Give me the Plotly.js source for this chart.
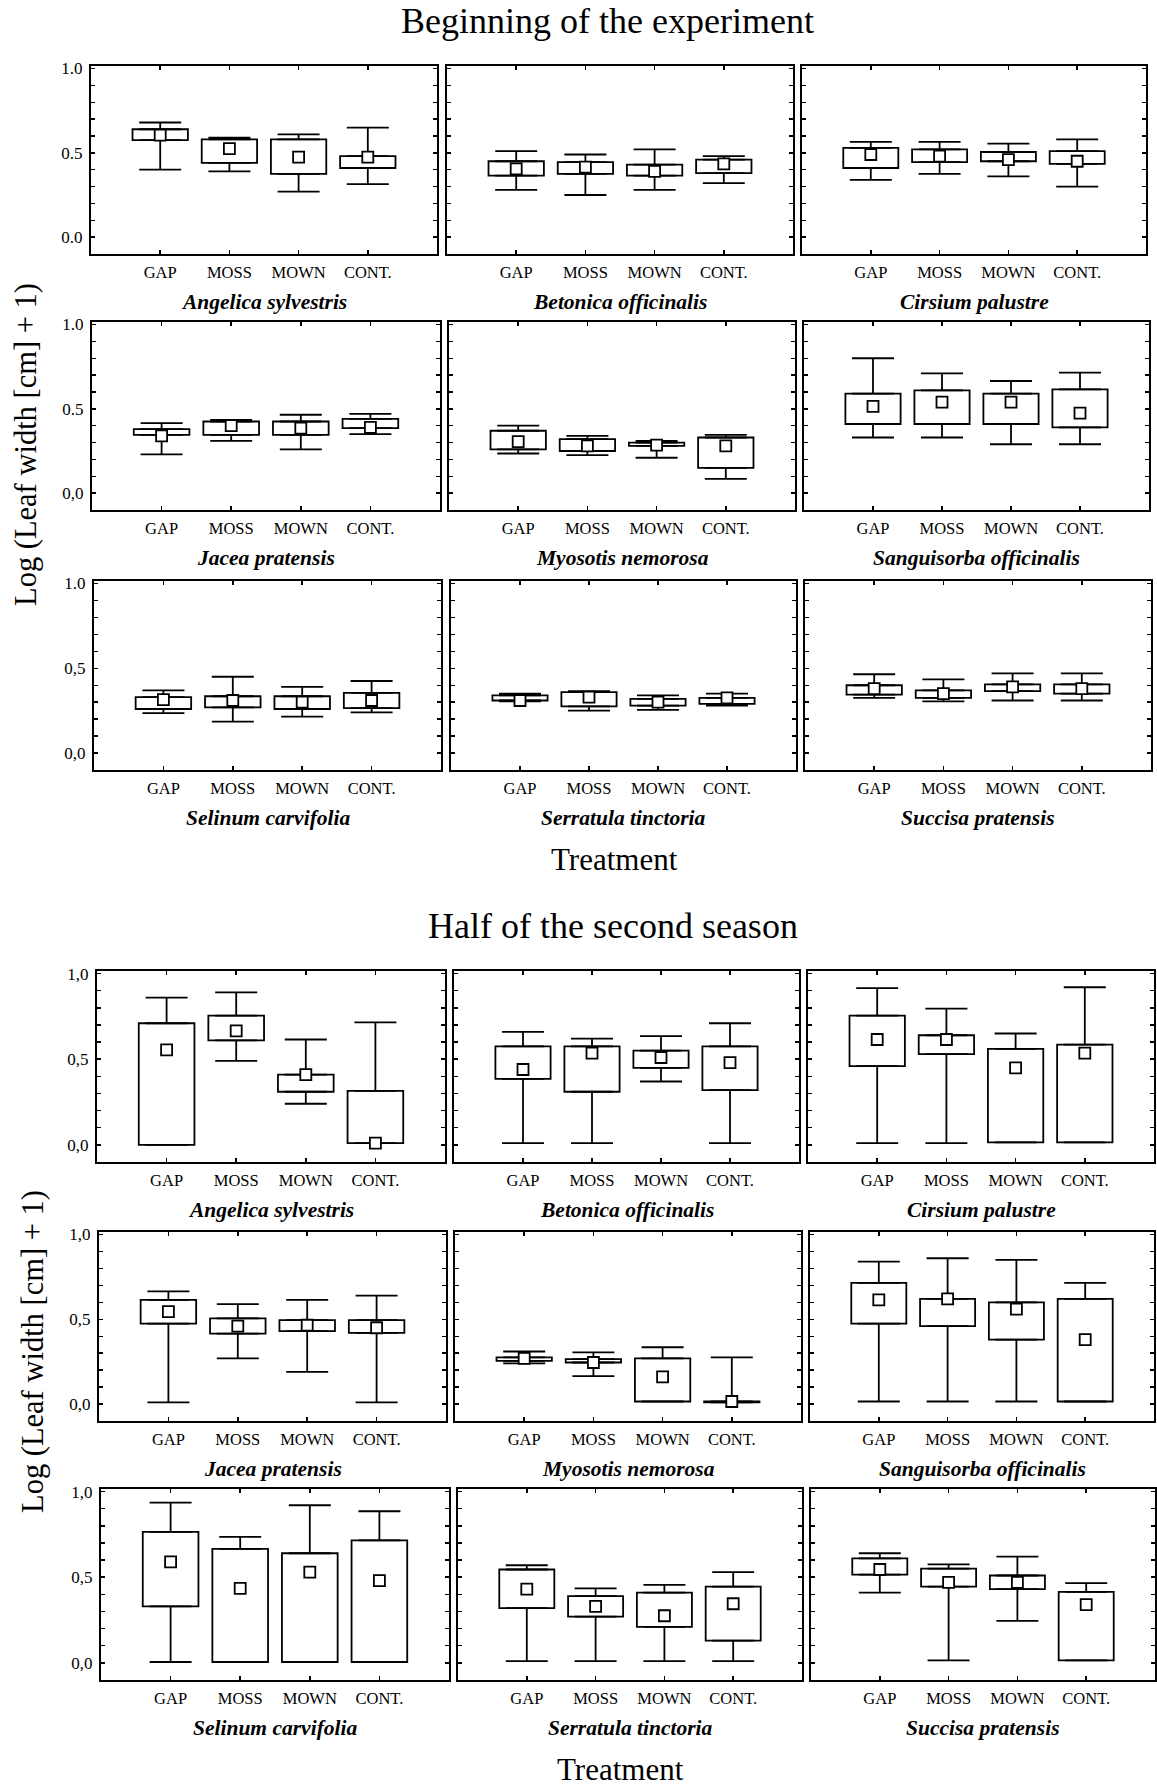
<!DOCTYPE html>
<html><head><meta charset="utf-8">
<script src="https://cdn.plot.ly/plotly-3.0.1.min.js"></script>
<style>html,body{margin:0;padding:0;background:#fff}#chart{width:1157px;height:1786px}</style>
</head><body><div id="chart"></div>
<script>
const treatments = ['GAP', 'MOSS', 'MOWN', 'CONT.'];
const species = ['Angelica sylvestris', 'Betonica officinalis', 'Cirsium palustre',
  'Jacea pratensis', 'Myosotis nemorosa', 'Sanguisorba officinalis',
  'Selinum carvifolia', 'Serratula tinctoria', 'Succisa pratensis'];
const periodTitles = ['Beginning of the experiment', 'Half of the second season'];
const xAxisTitle = 'Treatment';
const yAxisTitle = 'Log (Leaf width [cm] + 1)';
const yTickValues = [0, 0.5, 1.0];
const yTickLabelsByRow = [
  ['0.0', '0.5', '1.0'], ['0,0', '0.5', '1.0'], ['0,0', '0,5', '1.0'],
  ['0,0', '0,5', '1,0'], ['0,0', '0,5', '1,0'], ['0,0', '0,5', '1,0']
];

// Beginning of the experiment: rows = species, columns = GAP, MOSS, MOWN, CONT.
const begWhiskerLow = [
  [0.40, 0.39, 0.27, 0.315], [0.28, 0.25, 0.28, 0.32], [0.34, 0.375, 0.36, 0.30],
  [0.23, 0.31, 0.26, 0.35], [0.235, 0.225, 0.21, 0.085], [0.33, 0.33, 0.29, 0.29],
  [0.235, 0.185, 0.215, 0.24], [0.305, 0.25, 0.255, 0.28], [0.325, 0.305, 0.31, 0.31]
];
const begBoxLow = [
  [0.575, 0.44, 0.375, 0.41], [0.365, 0.375, 0.365, 0.38], [0.41, 0.445, 0.45, 0.435],
  [0.345, 0.345, 0.345, 0.385], [0.26, 0.25, 0.28, 0.15], [0.41, 0.41, 0.41, 0.39],
  [0.26, 0.27, 0.26, 0.265], [0.31, 0.275, 0.28, 0.29], [0.345, 0.325, 0.365, 0.35]
];
const begBoxHigh = [
  [0.64, 0.58, 0.58, 0.48], [0.45, 0.445, 0.43, 0.46], [0.53, 0.52, 0.505, 0.51],
  [0.38, 0.425, 0.425, 0.44], [0.37, 0.32, 0.30, 0.33], [0.59, 0.61, 0.59, 0.615],
  [0.33, 0.335, 0.335, 0.355], [0.34, 0.36, 0.32, 0.325], [0.40, 0.37, 0.405, 0.405]
];
const begWhiskerHigh = [
  [0.68, 0.59, 0.61, 0.65], [0.51, 0.49, 0.52, 0.48], [0.565, 0.565, 0.555, 0.58],
  [0.415, 0.435, 0.465, 0.47], [0.40, 0.34, 0.31, 0.345], [0.80, 0.71, 0.665, 0.715],
  [0.37, 0.45, 0.39, 0.425], [0.35, 0.365, 0.34, 0.35], [0.465, 0.435, 0.47, 0.47]
];
const begMean = [
  [0.605, 0.525, 0.475, 0.475], [0.405, 0.415, 0.39, 0.435], [0.49, 0.48, 0.46, 0.45],
  [0.34, 0.40, 0.385, 0.39], [0.305, 0.28, 0.285, 0.28], [0.515, 0.54, 0.54, 0.475],
  [0.315, 0.31, 0.30, 0.31], [0.31, 0.33, 0.30, 0.325], [0.38, 0.35, 0.39, 0.38]
];

// Half of the second season
const halfWhiskerLow = [
  [0.0, 0.49, 0.24, 0.01], [0.01, 0.01, 0.37, 0.01], [0.01, 0.01, 0.015, 0.015],
  [0.01, 0.27, 0.19, 0.01], [0.24, 0.165, 0.015, 0.01], [0.015, 0.015, 0.015, 0.015],
  [0.005, 0.005, 0.005, 0.005], [0.01, 0.01, 0.01, 0.01], [0.41, 0.015, 0.245, 0.015]
];
const halfBoxLow = [
  [0.0, 0.61, 0.31, 0.01], [0.385, 0.31, 0.45, 0.32], [0.46, 0.53, 0.015, 0.015],
  [0.475, 0.415, 0.43, 0.42], [0.255, 0.245, 0.015, 0.01], [0.475, 0.46, 0.38, 0.015],
  [0.33, 0.005, 0.005, 0.005], [0.32, 0.27, 0.21, 0.13], [0.515, 0.445, 0.43, 0.015]
];
const halfBoxHigh = [
  [0.71, 0.755, 0.41, 0.315], [0.575, 0.575, 0.55, 0.575], [0.755, 0.64, 0.56, 0.585],
  [0.615, 0.505, 0.495, 0.495], [0.275, 0.265, 0.27, 0.015], [0.715, 0.62, 0.60, 0.62],
  [0.765, 0.665, 0.64, 0.715], [0.545, 0.39, 0.41, 0.445], [0.61, 0.55, 0.51, 0.415]
];
const halfWhiskerHigh = [
  [0.86, 0.89, 0.615, 0.715], [0.66, 0.62, 0.635, 0.71], [0.915, 0.795, 0.65, 0.92],
  [0.665, 0.59, 0.615, 0.64], [0.31, 0.305, 0.335, 0.275], [0.84, 0.86, 0.85, 0.715],
  [0.935, 0.735, 0.92, 0.885], [0.57, 0.435, 0.455, 0.53], [0.64, 0.575, 0.62, 0.465]
];
const halfMean = [
  [0.555, 0.665, 0.41, 0.01], [0.44, 0.535, 0.51, 0.48], [0.615, 0.615, 0.45, 0.535],
  [0.545, 0.46, 0.465, 0.45], [0.27, 0.245, 0.16, 0.015], [0.615, 0.62, 0.56, 0.38],
  [0.59, 0.435, 0.53, 0.48], [0.43, 0.33, 0.275, 0.345], [0.545, 0.47, 0.47, 0.34]
];

const periods = [
  {wl: begWhiskerLow, ql: begBoxLow, qh: begBoxHigh, wh: begWhiskerHigh, m: begMean},
  {wl: halfWhiskerLow, ql: halfBoxLow, qh: halfBoxHigh, wh: halfWhiskerHigh, m: halfMean}
];

// ---- layout geometry (pixels) ----
const W = 1157, H = 1786;
const rowY = [[66, 254], [322, 510], [581, 770], [971, 1162], [1232, 1421], [1489, 1680]];
const colX = [
  [[91, 437], [447, 793], [802, 1146]],
  [[92, 440], [449, 795], [804, 1149]],
  [[94, 441], [451, 796], [805, 1151]],
  [[97, 445], [454, 799], [808, 1154]],
  [[99, 446], [455, 801], [810, 1154]],
  [[101, 449], [458, 802], [811, 1155]]
];
const FONT = 'Liberation Serif, Times New Roman, serif';
const px = x => x / W, py = y => 1 - y / H;

const traces = [];
const layout = {
  width: W, height: H, margin: {l: 0, r: 0, t: 0, b: 0},
  paper_bgcolor: '#fff', plot_bgcolor: '#fff', showlegend: false,
  font: {family: FONT, color: '#000'},
  annotations: [], bargap: 0
};

const xIdx = treatments.map((_, i) => i);
const lw = 1.8;

periods.forEach((P, p) => {
  species.forEach((sp, s) => {
    const row = p * 3 + Math.floor(s / 3), col = s % 3;
    const k = p * 9 + s + 1;
    const xa = 'x' + (k === 1 ? '' : k), ya = 'y' + (k === 1 ? '' : k);
    const [x0, x1] = colX[row][col];
    const [y0, y1] = rowY[row];
    const ql = P.ql[s], qh = P.qh[s], wl = P.wl[s], wh = P.wh[s], m = P.m[s];

    traces.push({
      type: 'bar', x: xIdx, base: ql, y: qh.map((v, i) => v - ql[i]),
      width: 0.8, xaxis: xa, yaxis: ya, hoverinfo: 'skip',
      marker: {color: '#fff', line: {color: '#000', width: lw}}
    });
    traces.push({
      type: 'scatter', mode: 'markers', x: xIdx, y: qh, xaxis: xa, yaxis: ya,
      hoverinfo: 'skip', marker: {size: 1, color: 'rgba(0,0,0,0)'},
      error_y: {type: 'data', symmetric: false, array: wh.map((v, i) => Math.max(0, v - qh[i])),
        arrayminus: qh.map(() => 0), width: 21, thickness: lw, color: '#000'}
    });
    traces.push({
      type: 'scatter', mode: 'markers', x: xIdx, y: ql, xaxis: xa, yaxis: ya,
      hoverinfo: 'skip', marker: {size: 1, color: 'rgba(0,0,0,0)'},
      error_y: {type: 'data', symmetric: false, array: ql.map(() => 0),
        arrayminus: ql.map((v, i) => Math.max(0, v - wl[i])), width: 21, thickness: lw, color: '#000'}
    });
    traces.push({
      type: 'scatter', mode: 'markers', x: xIdx, y: m, xaxis: xa, yaxis: ya,
      hoverinfo: 'skip', cliponaxis: false,
      marker: {symbol: 'square', size: 11, color: '#fff', line: {color: '#000', width: lw}}
    });

    const yTickVals = [], yTickText = [];
    for (let t = 0; t <= 10; t++) {
      const v = t / 10;
      yTickVals.push(v);
      const j = yTickValues.findIndex(u => Math.abs(u - v) < 1e-9);
      yTickText.push(j >= 0 ? yTickLabelsByRow[row][j] : '');
    }

    layout['xaxis' + (k === 1 ? '' : k)] = {
      domain: [px(x0), px(x1)], anchor: ya, range: [-1, 4],
      tickmode: 'array', tickvals: xIdx, ticktext: treatments,
      ticks: 'inside', ticklen: 4, tickwidth: 1.5, tickcolor: '#000',
      showline: true, linecolor: '#000', linewidth: 2, mirror: 'ticks',
      showgrid: false, zeroline: false, fixedrange: true,
      ticklabelstandoff: 2,
      tickfont: {family: FONT, size: 16.5, color: '#000'}
    };
    layout['yaxis' + (k === 1 ? '' : k)] = {
      domain: [py(y1), py(y0)], anchor: xa, range: [-0.1, 1.015],
      tickmode: 'array', tickvals: yTickVals, ticktext: yTickText,
      ticks: 'inside', ticklen: 4, tickwidth: 1.5, tickcolor: '#000',
      showline: true, linecolor: '#000', linewidth: 2, mirror: 'ticks',
      showgrid: false, zeroline: false, fixedrange: true,
      showticklabels: col === 0, ticklabelstandoff: 3,
      tickfont: {family: FONT, size: 17, color: '#000'}
    };
    layout.annotations.push({
      xref: 'paper', yref: 'paper', x: px((x0 + x1) / 2), y: py(y1 + 48),
      xanchor: 'center', yanchor: 'middle', showarrow: false,
      text: '<b><i>' + sp + '</i></b>', font: {family: FONT, size: 21.5, color: '#000'}
    });
  });
});

const bigText = (text, x, y, size, angle) => ({
  xref: 'paper', yref: 'paper', x: px(x), y: py(y), xanchor: 'center', yanchor: 'middle',
  showarrow: false, text: text, textangle: angle || 0, font: {family: FONT, size: size, color: '#000'}
});
layout.annotations.push(bigText(periodTitles[0], 607, 21, 36));
layout.annotations.push(bigText(periodTitles[1], 613, 926, 36));
layout.annotations.push(bigText(xAxisTitle, 614, 860, 31));
layout.annotations.push(bigText(xAxisTitle, 620, 1769, 31));
layout.annotations.push(bigText(yAxisTitle, 26, 445, 30.5, -90));
layout.annotations.push(bigText(yAxisTitle, 33, 1352, 30.5, -90));

Plotly.newPlot('chart', traces, layout, {staticPlot: true, displayModeBar: false});
</script>
</body></html>
